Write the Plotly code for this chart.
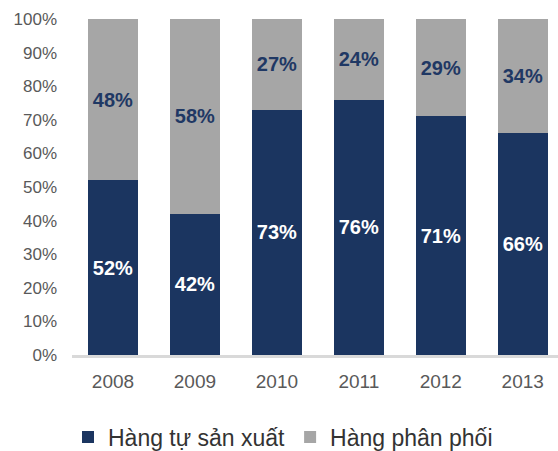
import plotly.graph_objects as go

# Share of revenue by product source, 2008-2013 (percent)
years = ["2008", "2009", "2010", "2011", "2012", "2013"]
own_made = [52, 42, 73, 76, 71, 66]        # Hàng tự sản xuất
distributed = [48, 58, 27, 24, 29, 34]     # Hàng phân phối
y_ticks = [0, 10, 20, 30, 40, 50, 60, 70, 80, 90, 100]
y_tick_labels = [f"{v}%" for v in y_ticks]

NAVY = "#1b3560"
GREY = "#a6a6a6"
FONT = "Arial, Liberation Sans, sans-serif"

fig = go.Figure()
fig.add_trace(go.Bar(
    x=years, y=own_made, name="Hàng tự sản xuất",
    marker=dict(color=NAVY, line=dict(width=0)),
    text=[f"{v}%" for v in own_made],
    textposition="inside", insidetextanchor="middle", textangle=0,
    textfont=dict(family=FONT, size=20, color="white", weight="bold"),
))
fig.add_trace(go.Bar(
    x=years, y=distributed, name="Hàng phân phối",
    marker=dict(color=GREY, line=dict(width=0)),
    text=[f"{v}%" for v in distributed],
    textposition="inside", insidetextanchor="middle", textangle=0,
    textfont=dict(family=FONT, size=20, color="#1f3864", weight="bold"),
))

fig.update_layout(
    barmode="stack",
    bargap=0.39,
    width=558, height=451,
    margin=dict(l=72, r=0, t=19, b=96),
    paper_bgcolor="white", plot_bgcolor="white",
    font=dict(family=FONT, color="#595959"),
    uniformtext=dict(minsize=20, mode="show"),
    xaxis=dict(
        type="category", range=[-0.5, 5.43],
        showline=True, linecolor="#d9d9d9", linewidth=3,
        ticks="", showgrid=False, zeroline=False,
        tickfont=dict(family=FONT, size=19, color="#595959"),
        ticklabelstandoff=7,
    ),
    yaxis=dict(
        range=[0, 100], tickvals=y_ticks, ticktext=y_tick_labels,
        showgrid=False, zeroline=False, showline=False, ticks="",
        tickfont=dict(family=FONT, size=17, color="#595959"),
        ticklabelstandoff=14,
    ),
    legend=dict(
        orientation="h", xref="container", yref="container",
        x=68 / 558, xanchor="left", y=1 - 437 / 451, yanchor="middle",
        font=dict(family=FONT, size=23, color="#333333"),
        itemwidth=30, traceorder="normal",
    ),
)

fig.write_html("out.html")
